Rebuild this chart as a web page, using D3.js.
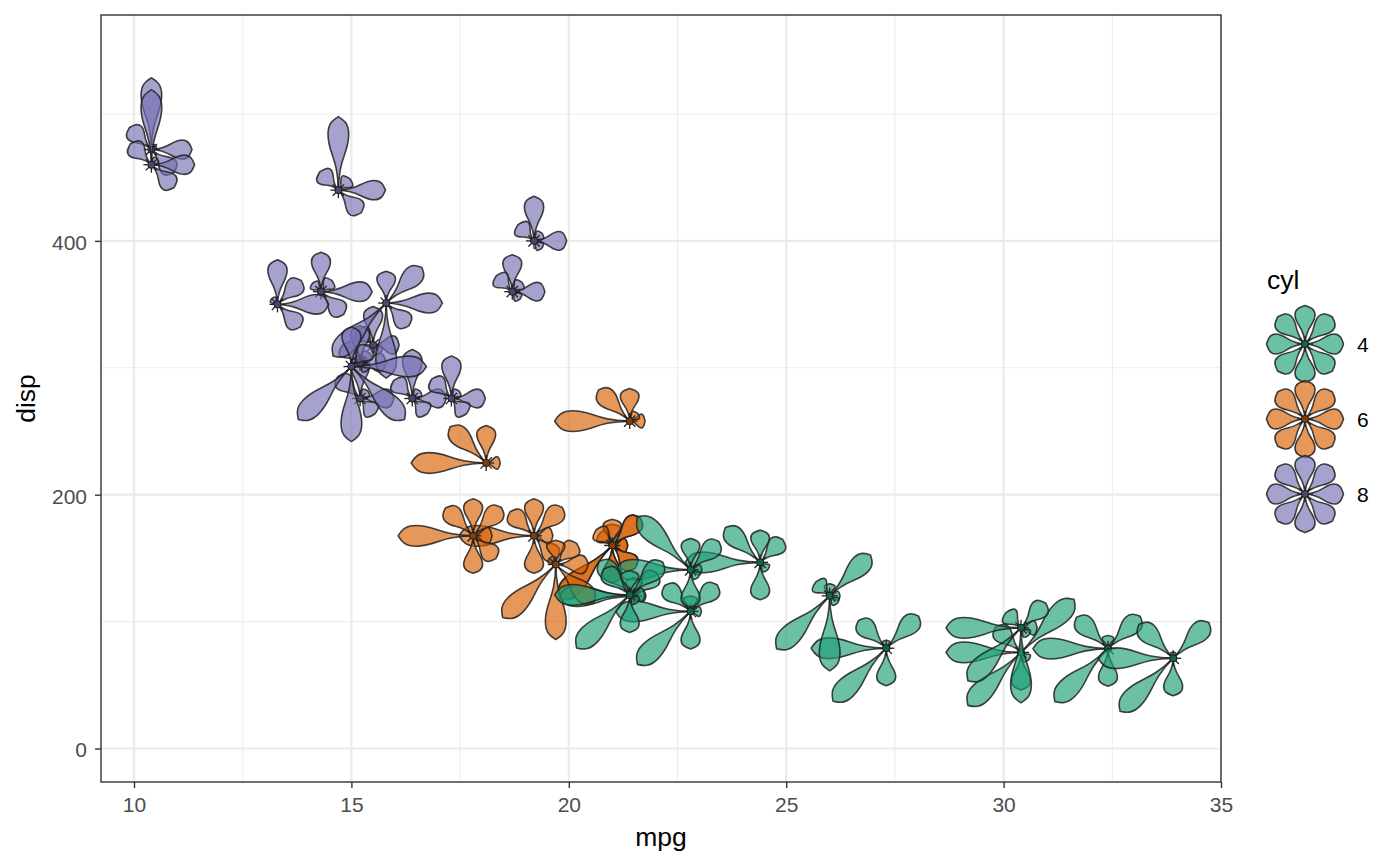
<!DOCTYPE html>
<html>
<head>
<meta charset="utf-8">
<script src="https://cdn.jsdelivr.net/npm/d3@7"></script>
<style>
  body { margin: 0; background: #fff; }
  text { font-family: "Liberation Sans", Arial, Helvetica, sans-serif; }
</style>
</head>
<body>
<div id="chart"></div>
<script>
// ---- Data (mtcars) ----------------------------------------------------
const mpg  = [21.0,21.0,22.8,21.4,18.7,18.1,14.3,24.4,22.8,19.2,17.8,16.4,17.3,15.2,10.4,10.4,14.7,32.4,30.4,33.9,21.5,15.5,15.2,13.3,19.2,27.3,26.0,30.4,15.8,19.7,15.0,21.4];
const cyl  = [6,6,4,6,8,6,8,4,4,6,6,8,8,8,8,8,8,4,4,4,4,8,8,8,8,4,4,4,8,6,8,4];
const disp = [160,160,108,258,360,225,360,146.7,140.8,167.6,167.6,275.8,275.8,275.8,472,460,440,78.7,75.7,71.1,120.1,318,304,350,400,79,120.3,95.1,351,145,301,121];
const hp   = [110,110,93,110,175,105,245,62,95,123,123,180,180,180,205,215,230,66,52,65,97,150,150,245,175,66,91,113,264,175,335,109];
const drat = [3.90,3.90,3.85,3.08,3.15,2.76,3.21,3.69,3.92,3.92,3.92,3.07,3.07,3.07,2.93,3.00,3.23,4.08,4.93,4.22,3.70,2.76,3.15,3.73,3.08,4.08,4.43,3.77,4.22,3.62,3.54,4.11];
const wt   = [2.620,2.875,2.320,3.215,3.440,3.460,3.570,3.190,3.150,3.440,3.440,4.070,3.730,3.780,5.250,5.424,5.345,2.200,1.615,1.835,2.465,3.520,3.435,3.840,3.845,1.935,2.140,1.513,3.170,2.770,3.570,2.780];
const qsec = [16.46,17.02,18.61,19.44,17.02,20.22,15.84,20.00,22.90,18.30,18.90,17.40,17.60,18.00,17.98,17.82,17.42,19.47,18.52,19.90,20.01,16.87,17.30,15.41,17.05,18.90,16.70,16.90,14.50,15.50,14.60,18.60];
const vs   = [0,0,1,1,0,1,0,1,1,1,1,0,0,0,0,0,0,1,1,1,1,0,0,0,0,1,0,1,0,0,0,1];
const am   = [1,1,1,0,0,0,0,0,0,0,0,0,0,0,0,0,0,1,1,1,0,0,0,0,0,1,1,1,1,1,1,1];
const gear = [4,4,4,3,3,3,3,4,4,4,4,3,3,3,3,3,3,4,4,4,3,3,3,3,3,4,5,5,5,5,5,4];
const carb = [4,4,1,1,2,1,4,2,2,4,4,3,3,3,4,4,4,1,2,1,1,2,2,4,2,1,2,2,4,6,8,2];

// petals go counter-clockwise from 3 o'clock
const petalVars = [hp, drat, wt, qsec, vs, am, gear, carb];

const cylLevels = [4, 6, 8];
const xTicks = [10, 15, 20, 25, 30, 35];
const yTicks = [0, 200, 400];

// ---- Dimensions -------------------------------------------------------
const dimensions = {
  width: 1400,
  height: 866,
  panel: { left: 101, right: 1221, top: 15, bottom: 782 }
};
const maxPetal = 75;

const svg = d3.select('#chart')
  .append('svg')
  .attr('width', dimensions.width)
  .attr('height', dimensions.height);

// ---- Scales -----------------------------------------------------------
const xScale = d3.scaleLinear()
  .domain([9.241, 35])
  .range([dimensions.panel.left, dimensions.panel.right]);

const yScale = d3.scaleLinear()
  .domain([-26.4, 578])
  .range([dimensions.panel.bottom, dimensions.panel.top]);

const colour = d3.scaleOrdinal()
  .domain(cylLevels)
  .range(['#1B9E77', '#D95F02', '#7570B3']);

const petalScales = petalVars.map(v =>
  d3.scaleLinear().domain(d3.extent(v)).range([0, maxPetal]));

// ---- Grid -------------------------------------------------------------
const grid = svg.append('g');
const xMinor = d3.range(12.5, 35, 5);
const yMinor = [100, 300, 500];
grid.selectAll('.xminor').data(xMinor).join('line')
  .attr('x1', d => xScale(d)).attr('x2', d => xScale(d))
  .attr('y1', dimensions.panel.top).attr('y2', dimensions.panel.bottom)
  .attr('stroke', '#ebebeb').attr('stroke-width', 1);
grid.selectAll('.yminor').data(yMinor).join('line')
  .attr('y1', d => yScale(d)).attr('y2', d => yScale(d))
  .attr('x1', dimensions.panel.left).attr('x2', dimensions.panel.right)
  .attr('stroke', '#ebebeb').attr('stroke-width', 1);
grid.selectAll('.xmajor').data(xTicks).join('line')
  .attr('x1', d => xScale(d)).attr('x2', d => xScale(d))
  .attr('y1', dimensions.panel.top).attr('y2', dimensions.panel.bottom)
  .attr('stroke', '#ebebeb').attr('stroke-width', 2.2);
grid.selectAll('.ymajor').data(yTicks).join('line')
  .attr('y1', d => yScale(d)).attr('y2', d => yScale(d))
  .attr('x1', dimensions.panel.left).attr('x2', dimensions.panel.right)
  .attr('stroke', '#ebebeb').attr('stroke-width', 2.2);

// ---- Flowers ----------------------------------------------------------
function petalPath(L, w) {
  const h = w / 2;
  return `M0,0 C${0.45 * L},${0.05 * h} ${0.5 * L},${h} ${0.76 * L},${h} ` +
         `C${0.92 * L},${h} ${0.96 * L},${0.45 * h} ${L},0 ` +
         `C${0.96 * L},${-0.45 * h} ${0.92 * L},${-h} ${0.76 * L},${-h} ` +
         `C${0.5 * L},${-h} ${0.45 * L},${-0.05 * h} 0,0 Z`;
}
const petalWidth = L => Math.min(17 + 0.05 * L, 0.9 * L);

function drawFlower(g, lengths, col, widthFn) {
  lengths.forEach((L, k) => {
    const ang = -k * 45;
    const pg = g.append('g').attr('transform', `rotate(${ang})`);
    if (L > 2) {
      pg.append('path')
        .attr('d', petalPath(L, widthFn(L)))
        .attr('fill', col)
        .attr('fill-opacity', 0.65)
        .attr('stroke', '#222')
        .attr('stroke-opacity', 0.85)
        .attr('stroke-width', 1.6)
        .attr('stroke-linejoin', 'round');
    }
    pg.append('line')
      .attr('x1', 0).attr('y1', 0).attr('x2', 8).attr('y2', 0)
      .attr('stroke', '#222').attr('stroke-width', 1.3);
  });
  g.append('circle')
    .attr('r', 3.6)
    .attr('fill', d3.color(col).darker(1.3))
    .attr('stroke', '#1a1a1a')
    .attr('stroke-width', 1);
}

svg.append('clipPath').attr('id', 'clip')
  .append('rect')
  .attr('x', dimensions.panel.left).attr('y', dimensions.panel.top)
  .attr('width', dimensions.panel.right - dimensions.panel.left)
  .attr('height', dimensions.panel.bottom - dimensions.panel.top);

const flowers = svg.append('g').attr('clip-path', 'url(#clip)');
mpg.forEach((m, i) => {
  const g = flowers.append('g')
    .attr('transform', `translate(${xScale(m)},${yScale(disp[i])})`);
  const lengths = petalScales.map((s, k) => s(petalVars[k][i]));
  drawFlower(g, lengths, colour(cyl[i]), petalWidth);
});

// ---- Panel border -----------------------------------------------------
svg.append('rect')
  .attr('x', dimensions.panel.left).attr('y', dimensions.panel.top)
  .attr('width', dimensions.panel.right - dimensions.panel.left)
  .attr('height', dimensions.panel.bottom - dimensions.panel.top)
  .attr('fill', 'none')
  .attr('stroke', '#333')
  .attr('stroke-width', 1.4);

// ---- Axes -------------------------------------------------------------
const xAxis = d3.axisBottom(xScale).tickValues(xTicks).tickSize(6).tickPadding(9);
const xAxisGroup = svg.append('g')
  .attr('transform', `translate(0,${dimensions.panel.bottom})`)
  .call(xAxis);
const yAxis = d3.axisLeft(yScale).tickValues(yTicks).tickSize(6).tickPadding(8);
const yAxisGroup = svg.append('g')
  .attr('transform', `translate(${dimensions.panel.left},0)`)
  .call(yAxis);

[xAxisGroup, yAxisGroup].forEach(a => {
  a.select('.domain').remove();
  a.selectAll('.tick line').attr('stroke', '#333').attr('stroke-width', 1.4);
  a.selectAll('.tick text')
    .attr('fill', '#4d4d4d')
    .style('font-size', '21px')
    .style('font-family', '"Liberation Sans", Arial, sans-serif');
});
xAxisGroup.selectAll('.tick text').attr('dy', '0.7em');
yAxisGroup.selectAll('.tick text').attr('dy', '0.4em');

svg.append('text')
  .attr('x', (dimensions.panel.left + dimensions.panel.right) / 2)
  .attr('y', 846)
  .attr('text-anchor', 'middle')
  .style('font-size', '26.5px')
  .text('mpg');

svg.append('text')
  .attr('transform', `translate(35,${(dimensions.panel.top + dimensions.panel.bottom) / 2}) rotate(-90)`)
  .attr('text-anchor', 'middle')
  .style('font-size', '26.5px')
  .text('disp');

// ---- Legend -----------------------------------------------------------
const legend = svg.append('g');
legend.append('text')
  .attr('x', 1267).attr('y', 289)
  .style('font-size', '26.5px')
  .text('cyl');

cylLevels.forEach((c, j) => {
  const cy = 344 + j * 75;
  const g = legend.append('g').attr('transform', `translate(1305,${cy})`);
  drawFlower(g, d3.range(8).map(() => 38.5), colour(c), () => 20);
  legend.append('text')
    .attr('x', 1357).attr('y', cy)
    .attr('dy', '0.36em')
    .style('font-size', '21px')
    .text(c);
});
</script>
</body>
</html>
